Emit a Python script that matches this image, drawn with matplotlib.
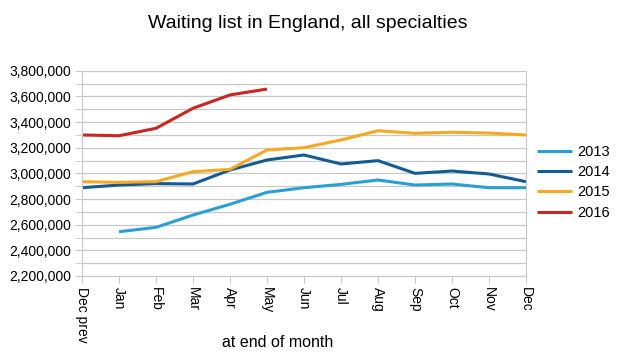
import matplotlib
matplotlib.use('Agg')
import matplotlib.pyplot as plt
from matplotlib.ticker import MultipleLocator, FuncFormatter

# months along the x axis
months = ['Dec prev', 'Jan', 'Feb', 'Mar', 'Apr', 'May', 'Jun',
          'Jul', 'Aug', 'Sep', 'Oct', 'Nov', 'Dec']

# waiting list size per year (None = no data)
wl_2013 = [None, 2545000, 2579000, 2675000, 2759000, 2852000, 2888000,
           2914000, 2948000, 2909000, 2917000, 2888000, 2888000]
wl_2014 = [2888000, 2909000, 2920000, 2917000, 3026000, 3104000, 3143000,
           3073000, 3099000, 3000000, 3018000, 2995000, 2935000]
wl_2015 = [2935000, 2930000, 2935000, 3013000, 3031000, 3182000, 3200000,
           3260000, 3332000, 3312000, 3320000, 3314000, 3299000]
wl_2016 = [3299000, 3293000, 3351000, 3507000, 3611000, 3657000]

years = ['2013', '2014', '2015', '2016']
colours = ['#2a9fd6', '#125c96', '#f7a823', '#c9261f']

plt.rcParams['font.family'] = ['Liberation Sans', 'DejaVu Sans']

fig = plt.figure(figsize=(6.17, 3.57), dpi=100)
ax = fig.add_axes([0.1329, 0.2269, 0.7196, 0.5751])

grid_col = '#c8c8c8'
for ys, c, lab in zip([wl_2013, wl_2014, wl_2015, wl_2016], colours, years):
    xs = [i for i, v in enumerate(ys) if v is not None]
    vs = [v for v in ys if v is not None]
    ax.plot(xs, vs, color=c, lw=2.2, label=lab, solid_joinstyle='round',
            solid_capstyle='butt')

ax.set_xlim(0, 12)
ax.set_ylim(2200000, 3800000)
ax.set_xticks(range(len(months)))
ax.set_xticklabels(months, rotation=-90, fontsize=10, va='top')
ax.yaxis.set_major_locator(MultipleLocator(200000))
ax.yaxis.set_minor_locator(MultipleLocator(100000))
ax.yaxis.set_major_formatter(FuncFormatter(lambda v, p: '{:,.0f}'.format(v)))
ax.tick_params(axis='y', labelsize=10, length=5, color=grid_col, pad=3)
ax.tick_params(axis='y', which='minor', length=5, color=grid_col)
ax.tick_params(axis='x', length=5, color=grid_col, pad=3)
ax.grid(axis='y', which='both', color=grid_col, lw=0.9)
ax.set_axisbelow(True)
for s in ['left', 'bottom', 'right']:
    ax.spines[s].set_color(grid_col)
ax.spines['top'].set_visible(False)

fig.text(0.4992, 0.933, 'Waiting list in England, all specialties',
         ha='center', va='center', fontsize=14)
fig.text(0.45, 0.042, 'at end of month', ha='center', va='center', fontsize=11.5)

fig.legend(loc='center left', bbox_to_anchor=(0.870, 0.489), frameon=False,
           fontsize=10.5, handlelength=2.4, labelspacing=0.42, handletextpad=0.4,
           borderpad=0, borderaxespad=0)

fig.savefig('out.png', dpi=100)
